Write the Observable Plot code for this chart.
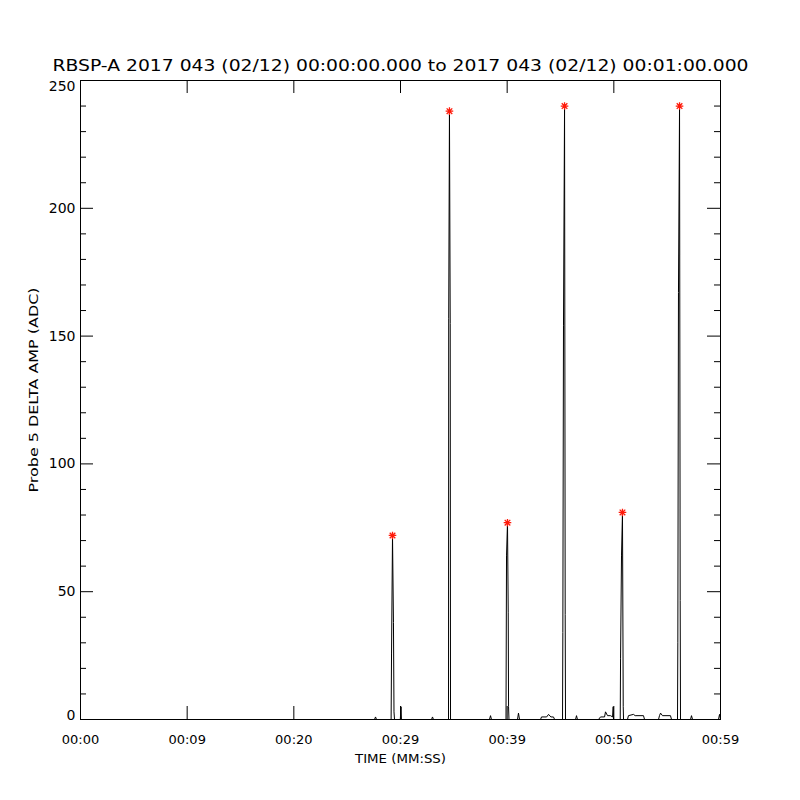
<!DOCTYPE html>
<html>
<head>
<meta charset="utf-8">
<script src="https://cdn.jsdelivr.net/npm/d3@7"></script>
<script src="https://cdn.jsdelivr.net/npm/@observablehq/plot@0.6"></script>
<style>
  html, body { margin: 0; padding: 0; background: #fff; }
  #chart svg { display: block; }
</style>
</head>
<body>
<div id="chart"></div>
<script>
// ---- Data (seconds after 00:00:00, ADC amplitude) ----
const traceTime = [
  0, 27.56, 27.66, 27.75,
  29.12, 29.16, 29.25, 29.34, 29.39, 29.44,
  29.98, 30.05, 30.09,
  32.91, 33.0, 33.09,
  34.50, 34.52, 34.59, 34.66, 34.69,
  38.34, 38.44, 38.53,
  39.89, 39.94, 40.03, 40.10, 40.13, 40.17,
  40.97, 41.06, 41.16,
  43.13, 43.22, 43.70, 43.88, 44.10, 44.34, 44.45,
  45.19, 45.22, 45.28, 45.38, 45.44, 45.47,
  46.41, 46.50, 46.59,
  48.56, 48.75, 49.13, 49.22, 49.41, 49.69, 49.88, 49.94, 49.97,
  50.16, 50.60, 50.63, 50.72, 50.81, 50.88, 50.91,
  51.28, 51.37, 51.84, 52.00, 52.78, 52.88,
  54.19, 54.28, 54.38, 54.56, 55.31, 55.41,
  55.97, 56.00, 56.06, 56.16, 56.22, 56.25,
  57.19, 57.28, 57.38,
  59.81, 59.91, 60
];
const traceValue = [
  0, 0, 1, 0,
  0, 26, 72, 38, 3, 0,
  0, 5, 0,
  0, 1, 0,
  0, 157, 238, 155, 0,
  0, 1.5, 0,
  0, 64, 77, 42, 5, 0,
  0, 2.5, 0,
  0, 1, 1, 2, 1, 1, 0,
  0, 34, 154, 240, 41, 0,
  0, 1.5, 0,
  0, 1, 1, 3, 1.5, 1.5, 1, 5, 0,
  0, 0, 24, 64, 81, 5, 0,
  0, 1.5, 2, 1.5, 1.5, 0,
  0, 1.5, 2.5, 1.5, 1.5, 0,
  0, 30, 167, 240, 46.5, 0,
  0, 1.5, 0,
  0, 2, 0
];
const peakTime  = [29.25, 34.59, 40.03, 45.38, 50.81, 56.16];
const peakValue = [72, 238, 77, 240, 81, 240];

const xTickValues = [0, 10, 20, 30, 40, 50, 60];
const xTickLabels = ["00:00", "00:09", "00:20", "00:29", "00:39", "00:50", "00:59"];
const yMajorTicks = [0, 50, 100, 150, 200, 250];
const yMinorTicks = d3.range(0, 251, 10).filter(v => v % 50 !== 0);

const titleText = "RBSP-A 2017 043 (02/12) 00:00:00.000 to 2017 043 (02/12) 00:01:00.000";
const xLabel = "TIME (MM:SS)";
const yLabel = "Probe 5 DELTA AMP (ADC)";

// ---- Build tables ----
const trace = traceTime.map((t, i) => ({t, v: traceValue[i]}));
const peaks = peakTime.map((t, i) => ({t, v: peakValue[i]}));

const W = 800, H = 800;
const mL = 80, mR = 80, mT = 80, mB = 81;
const pw = W - mL - mR, ph = H - mT - mB;
const majorLen = 13, minorLen = 6;

const asterisk = {
  draw(ctx) {
    const r = 3.8, d = 2.8;
    ctx.moveTo(-r, 0); ctx.lineTo(r, 0);
    ctx.moveTo(0, -r); ctx.lineTo(0, r);
    ctx.moveTo(-d, -d); ctx.lineTo(d, d);
    ctx.moveTo(-d, d); ctx.lineTo(d, -d);
  }
};

const font = "DejaVu Sans, sans-serif";

const chart = Plot.plot({
  width: W, height: H,
  marginLeft: mL, marginRight: mR, marginTop: mT, marginBottom: mB,
  style: {fontFamily: font, background: "#fff", color: "#000"},
  x: {domain: [0, 60], axis: null},
  y: {domain: [0, 250], axis: null},
  marks: [
    Plot.line(trace, {x: "t", y: "v", stroke: "#000", strokeWidth: 1, curve: "linear"}),
    Plot.dot(peaks, {x: "t", y: "v", symbol: asterisk, stroke: "#ff1a0a", strokeWidth: 1.3, fill: "none"}),
    Plot.frame({stroke: "#000", strokeWidth: 1}),
    // inward ticks: y left/right
    Plot.tickY(yMajorTicks, {y: d => d, insetRight: pw - majorLen, stroke: "#000"}),
    Plot.tickY(yMajorTicks, {y: d => d, insetLeft: pw - majorLen, stroke: "#000"}),
    Plot.tickY(yMinorTicks, {y: d => d, insetRight: pw - minorLen, stroke: "#000"}),
    Plot.tickY(yMinorTicks, {y: d => d, insetLeft: pw - minorLen, stroke: "#000"}),
    // inward ticks: x bottom/top
    Plot.tickX(xTickValues, {x: d => d, insetTop: ph - majorLen, stroke: "#000"}),
    Plot.tickX(xTickValues, {x: d => d, insetBottom: ph - majorLen, stroke: "#000"}),
    // tick labels
    Plot.text(yMajorTicks.filter(v => v !== 0 && v !== 250), {y: d => d, text: d => String(d), frameAnchor: "left", textAnchor: "end", lineAnchor: "middle", dx: -5, fontSize: 14}),
    Plot.text([250], {y: d => d, text: d => String(d), frameAnchor: "left", textAnchor: "end", lineAnchor: "middle", dx: -5, dy: 6, fontSize: 14}),
    Plot.text([0], {y: d => d, text: d => String(d), frameAnchor: "left", textAnchor: "end", lineAnchor: "middle", dx: -5, dy: -4, fontSize: 14}),
    Plot.text(xTickValues, {x: d => d, text: (d, i) => xTickLabels[i], frameAnchor: "bottom", lineAnchor: "middle", dy: 20, fontSize: 13}),
    // axis titles and title
    Plot.text([xLabel], {frameAnchor: "bottom", lineAnchor: "middle", dy: 39, fontSize: 12.5}),
    Plot.text([yLabel], {frameAnchor: "left", textAnchor: "middle", lineAnchor: "middle", dx: -47, dy: -10, rotate: -90, fontSize: 13}),
    Plot.text([titleText], {frameAnchor: "top", lineAnchor: "middle", dy: -15, fontSize: 16.5})
  ]
});

// stretch wide vector-font style labels to the reference widths
const stretch = {[titleText]: 696, [xLabel]: 91, [yLabel]: 205};
d3.select(chart).selectAll("text").each(function () {
  const s = this.textContent;
  if (stretch[s]) {
    d3.select(this).attr("textLength", stretch[s]).attr("lengthAdjust", "spacingAndGlyphs");
  }
});

document.getElementById("chart").appendChild(chart);
</script>
</body>
</html>
